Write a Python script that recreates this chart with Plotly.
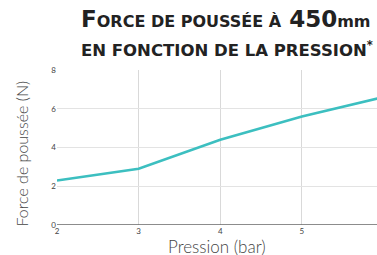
import plotly.graph_objects as go

pression = [2, 3, 4, 5, 6]
force = [2.3, 2.9, 4.4, 5.6, 6.6]
x_ticks = [2, 3, 4, 5]
y_ticks = [0, 2, 4, 6, 8]

fig = go.Figure()
fig.add_trace(go.Scatter(x=pression, y=force, mode="lines",
                         line=dict(color="#3cbfc0", width=2.6), hoverinfo="skip"))

fig.update_layout(
    width=377, height=255,
    margin=dict(l=57, r=0, t=70, b=30),
    paper_bgcolor="white", plot_bgcolor="white",
    showlegend=False,
    font=dict(family="Lato, sans-serif", color="#333"),
    xaxis=dict(range=[2, 5.92], tickvals=x_ticks, showgrid=True, gridcolor="#d9d9d9",
               gridwidth=1, zeroline=False, showline=False,
               tickfont=dict(size=8, color="#444"), ticks="", ticklen=0),
    yaxis=dict(range=[0, 8], tickvals=y_ticks, showgrid=True, gridcolor="#e3e3e3",
               gridwidth=1, zeroline=False, showline=False,
               tickfont=dict(size=8, color="#444"), ticks=""),
)
fig.add_shape(type="line", xref="paper", yref="y", x0=0, x1=1, y0=0, y1=0,
              line=dict(color="#666", width=1.3))

# axis titles
fig.add_annotation(xref="paper", yref="paper", x=0.5, y=0, yshift=-21,
                   xanchor="center", yanchor="middle", showarrow=False,
                   text="Pression (bar)",
                   font=dict(size=17, color="#444", family="Lato, sans-serif", weight=300))
fig.add_annotation(xref="paper", yref="paper", x=0, xshift=-36, y=0.5, yshift=-6,
                   xanchor="center", yanchor="middle", showarrow=False, textangle=-90,
                   text="Force de poussée (N)",
                   font=dict(size=16, color="#444", family="Lato, sans-serif", weight=300))

# title
fig.add_annotation(xref="paper", yref="paper", x=1.0, y=1.0, yshift=51, xshift=-4,
                   xanchor="right", yanchor="middle", showarrow=False,
                   text="<b>F<span style='font-size:16px'>ORCE DE POUSSÉE À</span> 450<span style='font-size:16px'>mm</span></b>",
                   font=dict(size=23, color="#222", family="DejaVu Sans, sans-serif"))
fig.add_annotation(xref="paper", yref="paper", x=1.0, y=1.0, yshift=21, xshift=-2,
                   xanchor="right", yanchor="middle", showarrow=False,
                   text="<b>EN FONCTION DE LA PRESSION<sup>*</sup></b>",
                   font=dict(size=16.5, color="#222", family="DejaVu Sans, sans-serif"))

fig.write_html("out.html", config={"displayModeBar": False},
               post_script="document.body.style.margin='0';document.body.style.overflow='hidden';")
